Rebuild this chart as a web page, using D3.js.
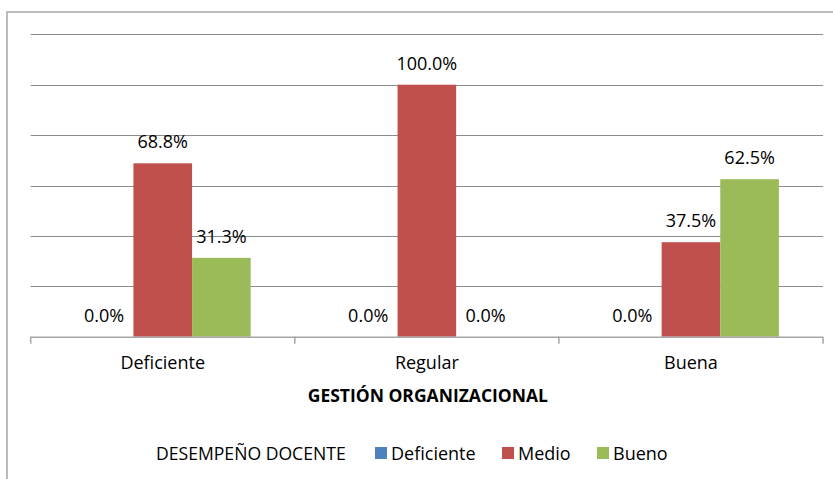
<!DOCTYPE html>
<html>
<head>
<meta charset="utf-8">
<script src="https://cdn.jsdelivr.net/npm/d3@7"></script>
<style>
  html, body { margin: 0; padding: 0; background: #fff; }
  svg { display: block; }
  text { font-family: "Open Sans", sans-serif; fill: #000; }
</style>
</head>
<body>
<svg id="chart" width="833" height="479"></svg>
<script>
const categories = ["Deficiente", "Regular", "Buena"];
const seriesNames = ["Deficiente", "Medio", "Bueno"];
const seriesColors = ["#4F81BD", "#C0504D", "#9BBB59"];
const deficienteValues = [0.0, 0.0, 0.0];
const medioValues = [68.8, 100.0, 37.5];
const buenoValues = [31.3, 0.0, 62.5];
const yTicks = [0, 20, 40, 60, 80, 100, 120];
const xAxisTitle = "GESTIÓN ORGANIZACIONAL";
const legendTitle = "DESEMPEÑO DOCENTE";

const seriesValues = [deficienteValues, medioValues, buenoValues];

const svg = d3.select("#chart");

// outer frame (extends past right/bottom edge)
svg.append("rect")
  .attr("x", 7).attr("y", 12)
  .attr("width", 900).attr("height", 600)
  .attr("fill", "none").attr("stroke", "#a6a6a6").attr("stroke-width", 1.5);

const plotLeft = 30.7, plotRight = 823, plotTop = 34.3, plotBottom = 336.7;

const y = d3.scaleLinear().domain([0, 120]).range([plotBottom, plotTop]);
const x0 = d3.scaleBand().domain(categories).range([plotLeft, plotRight]).padding(0);
const x1 = d3.scaleBand().domain(seriesNames)
  .range([x0.bandwidth() * 0.167, x0.bandwidth() * 0.833]).padding(0);

// gridlines
svg.append("g").selectAll("line")
  .data(yTicks.filter(t => t > 0))
  .join("line")
  .attr("x1", plotLeft).attr("x2", plotRight)
  .attr("y1", d => Math.round(y(d)) + 0.5).attr("y2", d => Math.round(y(d)) + 0.5)
  .attr("stroke", "#8c8c8c").attr("stroke-width", 1);

// bars
const groups = svg.append("g").selectAll("g")
  .data(categories)
  .join("g")
  .attr("transform", d => `translate(${x0(d)},0)`);

groups.selectAll("rect")
  .data((c, ci) => seriesNames.map((s, si) => ({ s, si, v: seriesValues[si][ci] })))
  .join("rect")
  .attr("x", d => x1(d.s))
  .attr("width", x1.bandwidth())
  .attr("y", d => y(d.v))
  .attr("height", d => plotBottom - y(d.v))
  .attr("fill", d => seriesColors[d.si]);

groups.selectAll("text.val")
  .data((c, ci) => seriesNames.map((s, si) => ({ s, si, v: seriesValues[si][ci] })))
  .join("text")
  .attr("class", "val")
  .attr("x", d => x1(d.s) + x1.bandwidth() / 2)
  .attr("y", d => y(d.v) - 15)
  .attr("text-anchor", "middle")
  .attr("font-size", 18)
  .text(d => d.v.toFixed(1) + "%");

// x axis
const xAxis = svg.append("g").attr("transform", `translate(0,${plotBottom})`);
xAxis.append("line")
  .attr("x1", plotLeft).attr("x2", plotRight)
  .attr("y1", 0.5).attr("y2", 0.5)
  .attr("stroke", "#a6a6a6").attr("stroke-width", 1.5);
const tickPos = categories.map(c => x0(c)).concat([x0(categories[categories.length - 1]) + x0.bandwidth()]);
xAxis.selectAll("line.tick")
  .data(tickPos)
  .join("line")
  .attr("class", "tick")
  .attr("x1", d => d).attr("x2", d => d)
  .attr("y1", 0).attr("y2", 7)
  .attr("stroke", "#a6a6a6").attr("stroke-width", 1.5);
xAxis.selectAll("text")
  .data(categories)
  .join("text")
  .attr("x", d => x0(d) + x0.bandwidth() / 2)
  .attr("y", 369 - plotBottom)
  .attr("text-anchor", "middle")
  .attr("font-size", 18)
  .text(d => d);

svg.append("text")
  .attr("x", (plotLeft + plotRight) / 2 + 1)
  .attr("y", 402)
  .attr("text-anchor", "middle")
  .attr("font-size", 17.5)
  .attr("font-weight", "bold")
  .text(xAxisTitle);

// legend
const legend = svg.append("g");
legend.append("text")
  .attr("x", 156).attr("y", 460)
  .attr("font-size", 17.6)
  .text(legendTitle);
const legendItemX = [375, 502, 597];
seriesNames.forEach((s, i) => {
  legend.append("rect")
    .attr("x", legendItemX[i]).attr("y", 447)
    .attr("width", 12).attr("height", 12)
    .attr("fill", seriesColors[i]);
  legend.append("text")
    .attr("x", legendItemX[i] + 16).attr("y", 460)
    .attr("font-size", 18)
    .text(s);
});
</script>
</body>
</html>
